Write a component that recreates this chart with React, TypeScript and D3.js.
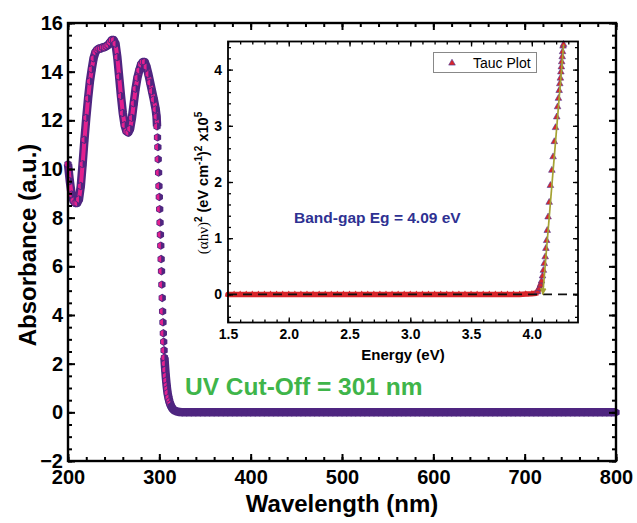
import React, { useEffect, useRef } from "react";
import * as d3 from "d3";

// UV-Vis absorbance spectrum
const wavelength = [
  200, 202, 204, 206, 208, 210, 212, 214, 216, 218, 220, 222, 224, 226, 228, 230, 232, 234, 236, 238,
  240, 242, 244, 246, 248, 250, 252, 254, 256, 258, 260, 262, 264, 266, 268, 270, 272, 274, 276, 278,
  280, 282, 284, 286, 288, 290, 292, 294, 296, 297, 297.5, 298, 298.4, 298.8, 299.2, 299.6, 300, 300.4,
  300.8, 301.2, 301.6, 302, 302.4, 302.8, 303.2, 303.6, 304, 304.4, 304.8, 305.2, 305.6, 306, 306.5, 307,
  307.5, 308, 308.5, 309, 310, 311, 312, 313, 314, 315, 316, 318, 320, 322,
  325, 330, 335, 340, 345, 350, 355, 360, 365, 370, 375, 380, 385, 390, 395, 400, 405, 410, 415, 420,
  425, 430, 435, 440, 445, 450, 455, 460, 465, 470, 475, 480, 485, 490, 495, 500, 505, 510, 515, 520,
  525, 530, 535, 540, 545, 550, 555, 560, 565, 570, 575, 580, 585, 590, 595, 600, 605, 610, 615, 620,
  625, 630, 635, 640, 645, 650, 655, 660, 665, 670, 675, 680, 685, 690, 695, 700, 705, 710, 715, 720,
  725, 730, 735, 740, 745, 750, 755, 760, 765, 770, 775, 780, 785, 790, 795, 800,
];
const absorbance = [
  10.2, 9.5, 8.95, 8.7, 8.6, 8.6, 8.75, 9.3, 10.2, 11.2, 12.1, 12.9, 13.6, 14.1, 14.55, 14.8, 14.9, 14.95, 14.95, 15.0,
  15.0, 15.05, 15.1, 15.2, 15.3, 15.3, 15.15, 14.6, 13.8, 13.0, 12.3, 11.8, 11.55, 11.5, 11.65, 12.1, 12.7, 13.3, 13.75, 14.05,
  14.3, 14.4, 14.4, 14.2, 13.9, 13.55, 13.2, 12.85, 12.45, 12.15, 11.75, 11.3, 10.9, 10.4, 9.85, 9.3, 8.85, 8.35,
  7.8, 7.3, 6.85, 6.3, 5.8, 5.25, 4.7, 4.15, 3.7, 3.25, 2.9, 2.55, 2.25, 2.0, 1.75, 1.5,
  1.3, 1.1, 0.95, 0.8, 0.6, 0.45, 0.34, 0.25, 0.18, 0.13, 0.09, 0.05, 0.03, 0.01,
  0.005, 0, 0, 0, 0, 0, 0, 0, 0, 0, 0, 0, 0, 0, 0, 0, 0, 0, 0, 0,
  0, 0, 0, 0, 0, 0, 0, 0, 0, 0, 0, 0, 0, 0, 0, 0, 0, 0, 0, 0,
  0, 0, 0, 0, 0, 0, 0, 0, 0, 0, 0, 0, 0, 0, 0, 0, 0, 0, 0, 0,
  0, 0, 0, 0, 0, 0, 0, 0, 0, 0, 0, 0, 0, 0, 0, 0, 0, 0, 0, 0,
  0, 0, 0, 0, 0, 0, 0, 0, 0, 0, 0, 0, 0, 0, 0, 0,
];

// Tauc plot (inset), (alpha h nu)^2 in units of 1e5
const taucEnergy = [
  1.5, 1.55, 1.6, 1.65, 1.7, 1.75, 1.8, 1.85, 1.9, 1.95, 2.0, 2.05, 2.1, 2.15, 2.2, 2.25, 2.3, 2.35, 2.4, 2.45,
  2.5, 2.55, 2.6, 2.65, 2.7, 2.75, 2.8, 2.85, 2.9, 2.95, 3.0, 3.05, 3.1, 3.15, 3.2, 3.25, 3.3, 3.35, 3.4, 3.45,
  3.5, 3.55, 3.6, 3.65, 3.7, 3.75, 3.8, 3.85, 3.9, 3.95, 4.0, 4.03, 4.048, 4.062, 4.072, 4.08, 4.088, 4.095,
  4.102, 4.11, 4.116, 4.122, 4.127, 4.134, 4.143, 4.153, 4.165, 4.175, 4.185, 4.195, 4.205, 4.212, 4.219,
  4.225, 4.23, 4.235, 4.239, 4.243, 4.246, 4.25, 4.253, 4.257, 4.261,
];
const taucValue = [
  0, 0, 0, 0, 0, 0, 0, 0, 0, 0, 0, 0, 0, 0, 0, 0, 0, 0, 0, 0,
  0, 0, 0, 0, 0, 0, 0, 0, 0, 0, 0, 0, 0, 0, 0, 0, 0, 0, 0, 0,
  0, 0, 0, 0, 0, 0, 0, 0, 0, 0.005, 0.01, 0.02, 0.05, 0.11, 0.17, 0.24, 0.33, 0.43,
  0.55, 0.67, 0.82, 0.96, 1.14, 1.38, 1.64, 1.94, 2.21, 2.45, 2.72, 2.97, 3.16, 3.34, 3.49,
  3.63, 3.75, 3.85, 3.96, 4.05, 4.14, 4.23, 4.32, 4.42, 4.45,
];
const fitLine = [
  [4.262, 4.45],
  [4.09, 0],
];

const mainXTicks = [200, 300, 400, 500, 600, 700, 800];
const mainYTicks = [-2, 0, 2, 4, 6, 8, 10, 12, 14, 16];
const insetXTicks = [1.5, 2.0, 2.5, 3.0, 3.5, 4.0];
const insetYTicks = [0, 1, 2, 3, 4];

const FONT = "'Liberation Sans', Arial, Helvetica, sans-serif";
const PURPLE = "#4f2680";
const MAGENTA = "#e3208e";
const RED = "#d8262b";
const NAVY = "#2e3192";
const TRI_EDGE = "#4a3d9c";

function boxAxes(g, x, y, o) {
  const [x0, x1] = x.range();
  const [y0, y1] = y.range();
  const clean = (sel) => {
    sel.select(".domain").remove();
    sel.selectAll("line").attr("stroke", "#000").attr("stroke-width", o.tickWidth);
  };
  // bottom
  g.append("g").attr("transform", `translate(0,${y0})`)
    .call(d3.axisBottom(x).tickValues(o.xMinor).tickSizeInner(-o.minor).tickSizeOuter(0).tickFormat(() => ""))
    .call(clean);
  const bx = g.append("g").attr("transform", `translate(0,${y0})`)
    .call(d3.axisBottom(x).tickValues(o.xMajor).tickSizeInner(-o.major).tickSizeOuter(0).tickPadding(o.xPad).tickFormat(o.xFmt))
    .call(clean);
  // top
  g.append("g").attr("transform", `translate(0,${y1})`)
    .call(d3.axisTop(x).tickValues(o.xMinor).tickSizeInner(-o.minor).tickSizeOuter(0).tickFormat(() => ""))
    .call(clean);
  g.append("g").attr("transform", `translate(0,${y1})`)
    .call(d3.axisTop(x).tickValues(o.xMajor).tickSizeInner(-o.major).tickSizeOuter(0).tickFormat(() => ""))
    .call(clean);
  // left
  g.append("g").attr("transform", `translate(${x0},0)`)
    .call(d3.axisLeft(y).tickValues(o.yMinor).tickSizeInner(-o.minor).tickSizeOuter(0).tickFormat(() => ""))
    .call(clean);
  const ly = g.append("g").attr("transform", `translate(${x0},0)`)
    .call(d3.axisLeft(y).tickValues(o.yMajor).tickSizeInner(-o.major).tickSizeOuter(0).tickPadding(o.yPad).tickFormat(o.yFmt))
    .call(clean);
  // right
  g.append("g").attr("transform", `translate(${x1},0)`)
    .call(d3.axisRight(y).tickValues(o.yMinor).tickSizeInner(-o.minor).tickSizeOuter(0).tickFormat(() => ""))
    .call(clean);
  g.append("g").attr("transform", `translate(${x1},0)`)
    .call(d3.axisRight(y).tickValues(o.yMajor).tickSizeInner(-o.major).tickSizeOuter(0).tickFormat(() => ""))
    .call(clean);

  [bx, ly].forEach((a) =>
    a.selectAll("text")
      .attr("fill", "#000")
      .style("font-family", FONT)
      .style("font-weight", "bold")
      .style("font-size", o.fontSize + "px")
  );

  g.append("rect")
    .attr("x", x0).attr("y", y1)
    .attr("width", x1 - x0).attr("height", y0 - y1)
    .attr("fill", "none").attr("stroke", "#000").attr("stroke-width", o.frameWidth);
}

// pointy-top hexagon and its left half
const hexR = 4.2;
const hexPts = d3.range(6).map((i) => {
  const a = (Math.PI / 180) * (90 + 60 * i);
  return [hexR * Math.cos(a), -hexR * Math.sin(a)];
});
const hexPath = "M" + hexPts.map((p) => p.join(",")).join("L") + "Z";
const hr = hexR - 0.9;
const halfHexPath = `M0,${-hr}L${-hr * 0.866},${-hr / 2}L${-hr * 0.866},${hr / 2}L0,${hr}Z`;
const triPath = "M0,-3.8L3.3,2.1L-3.3,2.1Z";

export default function App() {
  const ref = useRef(null);

  useEffect(() => {
    const svg = d3.select(ref.current);
    svg.selectAll("*").remove();

    // ---------- main plot ----------
    const x = d3.scaleLinear().domain([200, 800]).range([68, 616]);
    const y = d3.scaleLinear().domain([-2, 16]).range([461, 23]);
    const main = svg.append("g");

    const pts = wavelength.map((w, i) => ({ w, a: absorbance[i] }));
    // the dense parts of the scan render as a continuous band
    const dense = (d) => d.w <= 297.5 || d.w >= 305.6;

    main.append("path")
      .datum(pts)
      .attr("fill", "none")
      .attr("stroke", PURPLE)
      .attr("stroke-width", 8.5)
      .attr("stroke-linejoin", "round")
      .attr("d", d3.line().defined(dense).x((d) => x(d.w)).y((d) => y(d.a)));
    main.append("path")
      .datum(pts)
      .attr("fill", "none")
      .attr("stroke", MAGENTA)
      .attr("stroke-width", 4)
      .attr("stroke-linejoin", "round")
      .attr("d", d3.line().defined((d) => dense(d) && d.a > 0.3).x((d) => x(d.w)).y((d) => y(d.a)));

    const m = main.selectAll("g.pt").data(pts).join("g")
      .attr("class", "pt")
      .attr("transform", (d) => `translate(${x(d.w)},${y(d.a)})`);
    m.append("path").attr("d", hexPath).attr("fill", PURPLE);
    m.append("path").attr("d", halfHexPath).attr("fill", (d) => (d.a > 0.3 ? MAGENTA : PURPLE));

    boxAxes(main, x, y, {
      xMajor: mainXTicks, xMinor: d3.range(200, 801, 20),
      yMajor: mainYTicks, yMinor: d3.range(-2, 16.01, 0.5),
      major: 7, minor: 4, tickWidth: 2, frameWidth: 2.4,
      xPad: 9, yPad: 5, fontSize: 20,
      xFmt: d3.format("d"), yFmt: d3.format("d"),
    });

    main.append("text")
      .attr("transform", "translate(36,245) rotate(-90)")
      .attr("text-anchor", "middle")
      .style("font-family", FONT).style("font-weight", "bold").style("font-size", "24px")
      .text("Absorbance (a.u.)");
    main.append("text")
      .attr("x", 342).attr("y", 512)
      .attr("text-anchor", "middle")
      .style("font-family", FONT).style("font-weight", "bold").style("font-size", "24px")
      .text("Wavelength (nm)");
    main.append("text")
      .attr("x", 185).attr("y", 395)
      .attr("fill", "#3fb54a")
      .style("font-family", FONT).style("font-weight", "bold").style("font-size", "24.5px")
      .text("UV Cut-Off = 301 nm");

    // ---------- inset Tauc plot ----------
    const ix = d3.scaleLinear().domain([1.5, 4.38]).range([228, 578]);
    const iy = d3.scaleLinear().domain([-0.5, 4.5]).range([322.5, 41.5]);
    const inset = svg.append("g");
    inset.append("rect").attr("x", 228).attr("y", 41.5).attr("width", 350).attr("height", 281).attr("fill", "#fff");

    const tp = taucEnergy.map((e, i) => ({ e, v: taucValue[i] }));
    inset.append("path")
      .datum(tp)
      .attr("fill", "none")
      .attr("stroke", RED)
      .attr("stroke-width", 5.5)
      .attr("stroke-linecap", "round")
      .attr("d", d3.line().defined((d) => d.v < 0.2).x((d) => ix(d.e)).y((d) => iy(d.v)));
    inset.selectAll("path.tri").data(tp).join("path")
      .attr("class", "tri")
      .attr("d", triPath)
      .attr("transform", (d) => `translate(${ix(d.e)},${iy(d.v)})`)
      .attr("fill", RED)
      .attr("stroke", (d) => (d.v > 0.04 ? TRI_EDGE : "none"))
      .attr("stroke-width", 0.6);

    // dashed zero line
    inset.append("line")
      .attr("x1", ix(1.5)).attr("x2", ix(4.38))
      .attr("y1", iy(0)).attr("y2", iy(0))
      .attr("stroke", "#111").attr("stroke-width", 1.6)
      .attr("stroke-dasharray", "9,6");

    // linear fit with arrow to the intercept
    svg.append("defs").append("marker")
      .attr("id", "arr").attr("viewBox", "0 0 10 10").attr("refX", 9).attr("refY", 5)
      .attr("markerWidth", 4).attr("markerHeight", 4).attr("orient", "auto")
      .append("path").attr("d", "M0,0L10,5L0,10Z").attr("fill", "#a5a233");
    inset.append("path")
      .datum(fitLine)
      .attr("fill", "none")
      .attr("stroke", "#a5a233")
      .attr("stroke-width", 1.7)
      .attr("marker-end", "url(#arr)")
      .attr("d", d3.line().x((d) => ix(d[0])).y((d) => iy(d[1])));

    boxAxes(inset, ix, iy, {
      xMajor: insetXTicks, xMinor: d3.range(1.5, 4.381, 0.1),
      yMajor: insetYTicks, yMinor: d3.range(-0.4, 4.5, 0.2),
      major: 5, minor: 3, tickWidth: 1.3, frameWidth: 1.8,
      xPad: 7, yPad: 6, fontSize: 14,
      xFmt: d3.format(".1f"), yFmt: d3.format("d"),
    });

    inset.append("text")
      .attr("x", 403).attr("y", 360)
      .attr("text-anchor", "middle")
      .style("font-family", FONT).style("font-weight", "bold").style("font-size", "15px")
      .text("Energy (eV)");

    const yl = inset.append("text")
      .attr("transform", "translate(208,183) rotate(-90)")
      .attr("text-anchor", "middle")
      .style("font-family", FONT).style("font-weight", "bold").style("font-size", "14.5px");
    yl.append("tspan").style("font-family", "'Liberation Serif', 'DejaVu Serif', serif").style("font-weight", "normal").style("font-size", "15px").text("(αhν)");
    yl.append("tspan").attr("dy", -6).style("font-size", "10px").text("2");
    yl.append("tspan").attr("dy", 6).text(" (eV cm");
    yl.append("tspan").attr("dy", -6).style("font-size", "10px").text("-1");
    yl.append("tspan").attr("dy", 6).text(")");
    yl.append("tspan").attr("dy", -6).style("font-size", "10px").text("2");
    yl.append("tspan").attr("dy", 6).text(" x10");
    yl.append("tspan").attr("dy", -6).style("font-size", "10px").text("5");

    inset.append("text")
      .attr("x", 294).attr("y", 223)
      .attr("fill", NAVY)
      .style("font-family", FONT).style("font-weight", "bold").style("font-size", "15.5px")
      .text("Band-gap Eg = 4.09 eV");

    // legend
    const lg = inset.append("g");
    lg.append("rect").attr("x", 433.5).attr("y", 52.5).attr("width", 103).attr("height", 20)
      .attr("fill", "#fff").attr("stroke", "#888").attr("stroke-width", 1);
    lg.append("path").attr("d", triPath).attr("transform", "translate(452,63)")
      .attr("fill", RED).attr("stroke", TRI_EDGE).attr("stroke-width", 0.6);
    lg.append("text").attr("x", 473).attr("y", 67.5)
      .style("font-family", FONT).style("font-size", "14px")
      .text("Tauc Plot");
  }, []);

  return (
    <svg
      ref={ref}
      width={637}
      height={523}
      style={{ position: "absolute", left: 0, top: 0, background: "#fff" }}
    />
  );
}
